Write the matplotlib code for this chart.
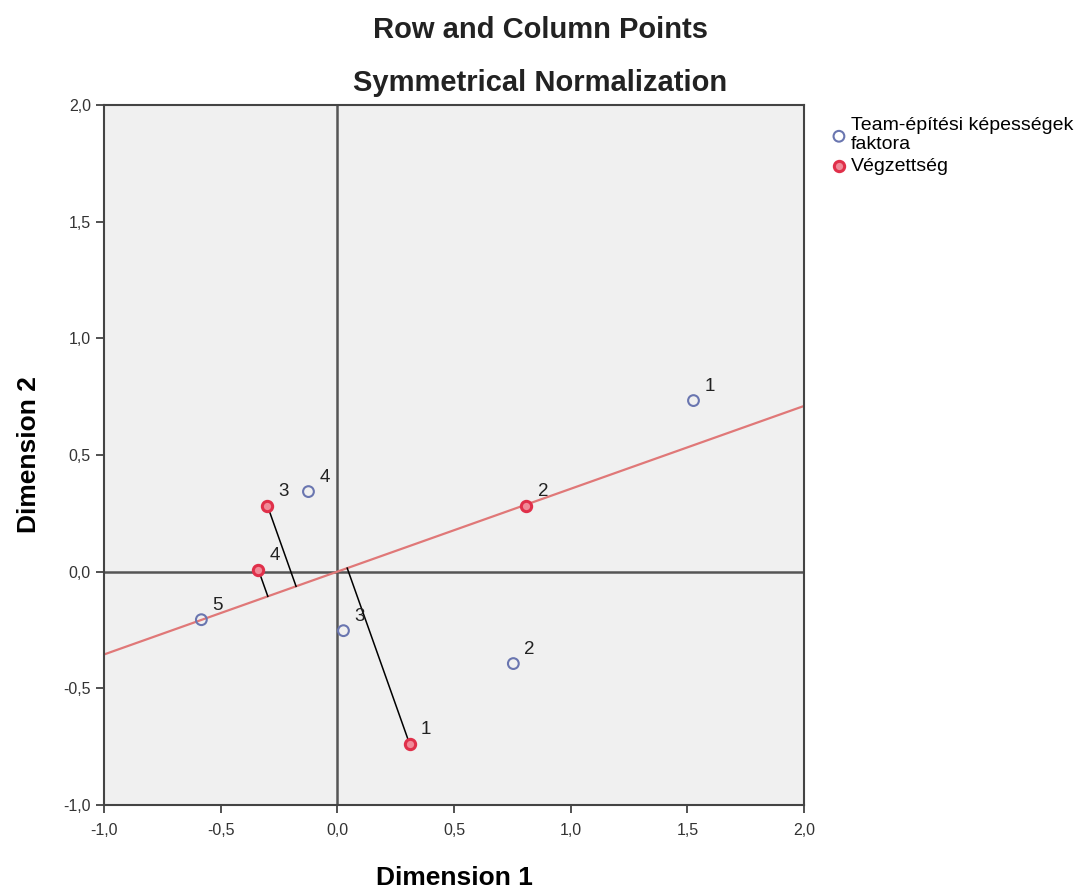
import matplotlib
matplotlib.use("Agg")
import matplotlib.pyplot as plt
from matplotlib.ticker import FuncFormatter
import numpy as np

plt.rcParams["font.family"] = ["Liberation Sans", "DejaVu Sans"]

# row points: Team-építési képességek faktora
team_labels = ["1", "2", "3", "4", "5"]
team_x = [1.526, 0.754, 0.026, -0.124, -0.583]
team_y = [0.733, -0.394, -0.253, 0.343, -0.206]

# column points: Végzettség
edu_labels = ["1", "2", "3", "4"]
edu_x = [0.309, 0.810, -0.300, -0.339]
edu_y = [-0.737, 0.283, 0.283, 0.009]

# reference line through origin and projections of these column points
line_slope = 0.355
proj_idx = [0, 2, 3]

fig = plt.figure(figsize=(10.85, 8.89), dpi=100)
ax = fig.add_axes([0.0959, 0.0945, 0.6452, 0.7875])
ax.set_facecolor("#f0f0f0")

ax.set_xlim(-1, 2)
ax.set_ylim(-1, 2)

ax.axhline(0, color="#555555", lw=1.8, zorder=1)
ax.axvline(0, color="#555555", lw=1.8, zorder=1)

xs = np.array([-1.0, 2.0])
ax.plot(xs, line_slope * xs, color="#e07878", lw=1.6, zorder=2)

u = np.array([1.0, line_slope]) / np.hypot(1.0, line_slope)
for i in proj_idx:
    p = np.array([edu_x[i], edu_y[i]])
    q = np.dot(p, u) * u
    ax.plot([p[0], q[0]], [p[1], q[1]], color="black", lw=1.1, zorder=2)

ax.scatter(team_x, team_y, s=60, facecolors="none", edgecolors="#6a76b0",
           linewidths=1.5, zorder=3, label="Team-építési képességek\nfaktora")
ax.scatter(edu_x, edu_y, s=55, facecolors="#f08a98", edgecolors="#e0304a",
           linewidths=2.2, zorder=3, label="Végzettség")

for lab, x, y in zip(team_labels, team_x, team_y):
    ax.annotate(lab, (x, y), xytext=(8, 7), textcoords="offset points",
                fontsize=13.5, color="#222222")
for lab, x, y in zip(edu_labels, edu_x, edu_y):
    ax.annotate(lab, (x, y), xytext=(8, 7), textcoords="offset points",
                fontsize=13.5, color="#222222")

ticks = [-1.0, -0.5, 0.0, 0.5, 1.0, 1.5, 2.0]
fmt = FuncFormatter(lambda v, pos: f"{v:.1f}".replace(".", ","))
ax.set_xticks(ticks)
ax.set_yticks(ticks)
ax.xaxis.set_major_formatter(fmt)
ax.yaxis.set_major_formatter(fmt)
ax.tick_params(labelsize=11.5, colors="#333333", length=6, width=1.2)
ax.tick_params(axis="x", pad=7)

for s in ax.spines.values():
    s.set_color("#444444")
    s.set_linewidth(1.5)

ax.set_xlabel("Dimension 1", fontsize=19, fontweight="bold", labelpad=20)
ax.set_ylabel("Dimension 2", fontsize=19, fontweight="bold", labelpad=16)

fig.text(0.498, 0.966, "Row and Column Points", ha="center", va="center",
         fontsize=21, fontweight="bold", color="#222222")
fig.text(0.498, 0.907, "Symmetrical Normalization", ha="center", va="center",
         fontsize=21, fontweight="bold", color="#222222")

ax.legend(loc="upper left", bbox_to_anchor=(1.022, 1.0), frameon=False,
          fontsize=14, handletextpad=0.2, borderaxespad=0.2,
          labelspacing=0.2, handlelength=0.8)

fig.savefig("out.png", dpi=100)
